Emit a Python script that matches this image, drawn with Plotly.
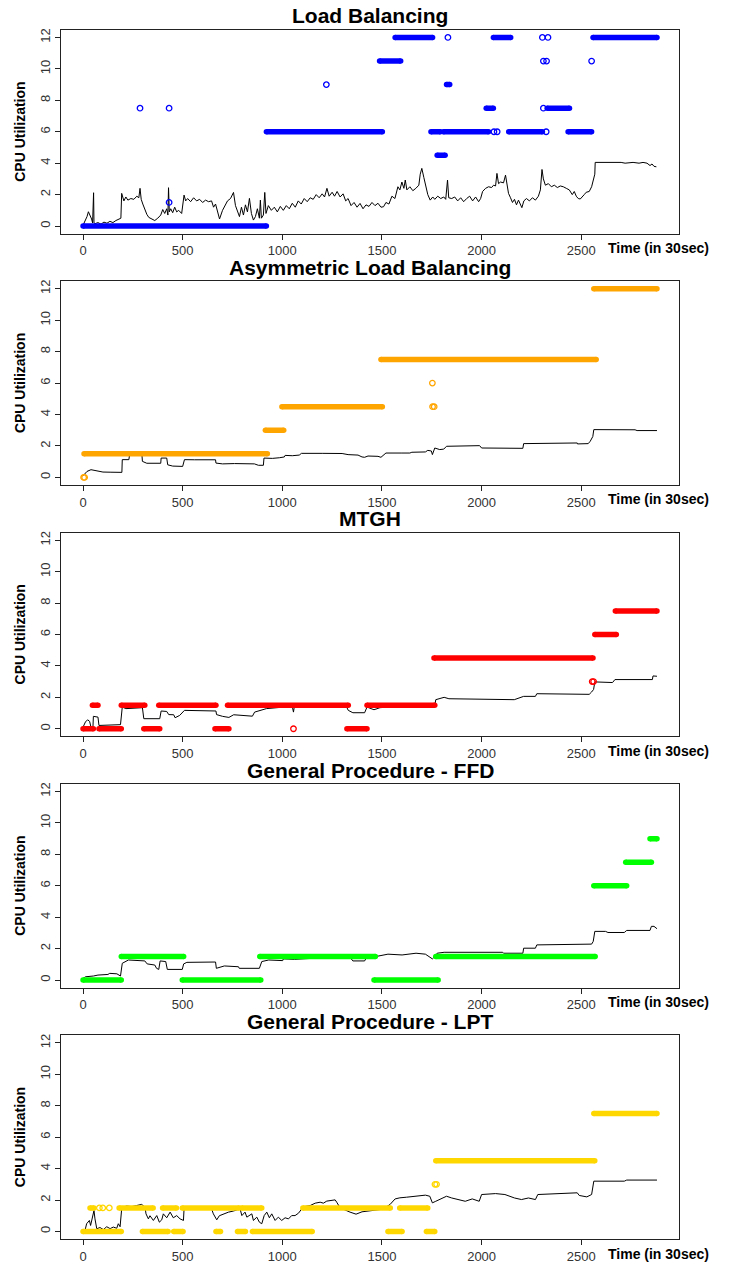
import plotly.graph_objects as go

# ---------------- data ----------------
titles = ["Load Balancing", "Asymmetric Load Balancing", "MTGH",
          "General Procedure - FFD", "General Procedure - LPT"]
colors = ["#0000FF", "#FFA500", "#FF0000", "#00FF00", "#FFD700"]
x_ticks = [0, 500, 1000, 1500, 2000, 2500]
y_ticks = [0, 2, 4, 6, 8, 10, 12]

# Panel 1: Load Balancing - CPU utilization line
lb_x = [0, 10, 20, 27, 35, 43, 48, 50, 53, 55, 60, 75, 90, 105, 120, 135, 150, 165, 180, 190,
        194, 205, 215, 225, 240, 255, 270, 280, 286, 292, 300, 310, 320, 330, 345, 360, 375, 390,
        400, 410, 420, 426, 429, 433, 440, 450, 460, 470, 480, 495, 507, 515, 525, 540, 555, 570,
        585, 600, 615, 630, 645, 655, 665, 675, 685, 700, 712, 725, 740, 755, 765, 775, 785, 795,
        805, 815, 825, 835, 845, 855, 865, 875, 885, 890, 895, 905, 912, 918, 930, 945, 960, 975,
        990, 1005, 1020, 1035, 1050, 1065, 1080, 1095, 1110, 1125, 1140, 1155, 1170, 1185, 1200,
        1212, 1224, 1235, 1250, 1262, 1275, 1290, 1305, 1318, 1330, 1345, 1360, 1375, 1390, 1405,
        1420, 1435, 1450, 1465, 1480, 1495, 1508, 1520, 1535, 1550, 1565, 1580, 1590, 1600, 1610,
        1617, 1625, 1640, 1655, 1670, 1685, 1692, 1700, 1710, 1720, 1730, 1742, 1755, 1765, 1780,
        1795, 1810, 1820, 1829, 1835, 1850, 1865, 1880, 1895, 1910, 1925, 1940, 1955, 1970, 1985,
        1995, 2005, 2020, 2035, 2050, 2060, 2070, 2077, 2085, 2095, 2110, 2120, 2128, 2135, 2145,
        2155, 2165, 2175, 2185, 2195, 2202, 2212, 2225, 2240, 2255, 2270, 2285, 2295, 2303, 2310,
        2320, 2335, 2350, 2365, 2380, 2395, 2410, 2425, 2440, 2455, 2465, 2475, 2485, 2495, 2505,
        2515, 2525, 2540, 2552, 2562, 2568, 2570, 2700, 2720, 2760, 2790, 2810, 2830, 2845, 2855,
        2865, 2877]
lb_y = [0.05, 0.28, 0.6, 0.91, 0.7, 0.45, 0.2, 2.12, 2.12, 0.2, 0.15, 0.22, 0.12, 0.25, 0.18, 0.3,
        0.22, 0.35, 0.45, 0.5, 2.08, 1.6, 1.85, 1.65, 1.75, 1.7, 1.9, 1.8, 2.4, 1.7, 1.4, 1.0, 0.75,
        0.55, 0.45, 0.35, 0.5, 0.7, 1.05, 0.8, 1.1, 0.7, 2.44, 0.9, 1.1, 0.85, 1.2, 0.9, 1.0, 0.8,
        1.97, 1.6, 1.75, 1.55, 1.8, 1.6, 1.7, 1.5, 1.65, 1.55, 1.6, 1.2, 1.4, 0.9, 0.45, 1.0, 1.3,
        1.6, 1.75, 2.14, 1.3, 1.0, 0.6, 1.2, 0.7, 1.35, 0.9, 1.76, 0.8, 0.38, 0.6, 1.1, 0.5, 1.65,
        0.5, 0.7, 2.14, 0.8, 1.3, 1.0, 1.2, 0.9, 1.25, 1.0, 1.3, 1.1, 1.45, 1.2, 1.6, 1.4, 1.75,
        1.55, 1.8, 1.7, 2.0, 1.8, 2.05, 1.85, 2.4, 1.9, 2.15, 1.9, 2.2, 1.85, 2.05, 1.6, 1.75, 1.3,
        1.5, 1.2, 1.44, 1.1, 1.35, 1.25, 1.5, 1.3, 1.45, 1.2, 1.23, 1.5, 1.4, 1.9, 1.75, 2.5, 2.3,
        2.8, 2.4, 2.93, 2.3, 2.5, 2.25, 2.4, 2.6, 3.3, 3.67, 3.1, 2.6, 2.0, 1.65, 1.85, 1.7, 1.9,
        1.75, 1.85, 1.7, 2.93, 1.8, 1.75, 1.85, 1.6, 1.8, 1.55, 1.75, 1.9, 1.6, 1.85, 1.55, 1.75,
        2.2, 2.4, 2.5, 2.45, 2.6, 2.55, 3.35, 2.7, 2.8, 2.75, 3.24, 2.5, 2.08, 1.8, 1.5, 1.7, 1.35,
        1.65, 1.3, 1.17, 1.6, 1.75, 1.6, 1.8, 1.65, 1.9, 2.3, 3.6, 3.0, 2.6, 2.7, 2.5, 2.6, 2.45,
        2.55, 2.5, 2.4, 2.3, 2.0, 2.2, 1.9, 1.75, 1.72, 1.9, 2.0, 2.15, 2.2, 2.5, 2.93, 3.3, 4.05,
        4.05, 4.0, 4.05, 4.0, 4.05, 4.0, 3.85, 3.95, 3.8, 3.77]
lb_seg_start = [0, 920, 1488, 1566, 1746, 1777, 1808, 1824, 2023, 2059, 2136, 2329, 2434, 2559]
lb_seg_end = [920, 1502, 1594, 1754, 1793, 1817, 2035, 1840, 2059, 2146, 2305, 2441, 2552, 2880]
lb_seg_val = [0, 6, 10.5, 12, 6, 4.5, 6, 9, 7.5, 12, 6, 7.5, 6, 12]
lb_pt_x = [286, 432, 432, 1221, 1831, 2062, 2078, 2305, 2333, 2310, 2326, 2310, 2324, 2552]
lb_pt_y = [7.5, 7.5, 1.5, 9, 12, 6, 6, 12, 12, 10.5, 10.5, 7.5, 6, 10.5]

# Panel 2: Asymmetric Load Balancing
alb_x = [0, 10, 20, 40, 60, 80, 100, 140, 180, 195, 197, 230, 235, 260, 295, 298, 320, 360, 390,
         392, 420, 425, 450, 500, 509, 560, 665, 667, 700, 760, 860, 880, 905, 908, 950, 985, 1010,
         1014, 1050, 1085, 1096, 1200, 1300, 1330, 1380, 1400, 1413, 1430, 1480, 1495, 1510, 1520,
         1600, 1640, 1650, 1718, 1730, 1748, 1753, 1760, 1765, 1790, 1810, 1824, 1900, 1990, 2000,
         2100, 2207, 2211, 2350, 2480, 2481, 2535, 2545, 2558, 2563, 2770, 2780, 2880]
alb_y = [0.1, 0.28, 0.38, 0.49, 0.45, 0.4, 0.34, 0.33, 0.32, 0.32, 1.13, 1.13, 1.55, 1.52, 1.55,
         1.02, 0.9, 0.88, 0.9, 1.23, 1.23, 0.8, 0.72, 0.7, 1.13, 1.12, 1.12, 0.91, 0.86, 0.88, 0.86,
         0.77, 0.77, 1.23, 1.21, 1.25, 1.3, 1.4, 1.38, 1.42, 1.53, 1.53, 1.52, 1.45, 1.42, 1.3, 1.28,
         1.36, 1.34, 1.28, 1.45, 1.55, 1.55, 1.55, 1.6, 1.62, 1.72, 1.68, 1.45, 1.65, 1.87, 1.77,
         1.8, 1.98, 2.0, 2.02, 1.87, 1.85, 1.85, 2.15, 2.18, 2.19, 2.13, 2.15, 2.3, 2.6, 3.04, 3.03,
         2.98, 2.98]
alb_seg_start = [5, 915, 998, 1495, 2563]
alb_seg_end = [925, 1007, 1502, 2575, 2880]
alb_seg_val = [1.5, 3, 4.5, 7.5, 12]
alb_pt_x = [3, 8, 1753, 1754, 1762]
alb_pt_y = [0, 0, 6, 4.5, 4.5]

# Panel 3: MTGH
mt_x = [0, 12, 23, 33, 40, 50, 52, 75, 80, 188, 197, 215, 298, 305, 385, 392, 420, 430, 455, 462,
        485, 509, 667, 670, 700, 732, 756, 850, 861, 920, 991, 1037, 1052, 1056, 1060, 1200, 1320,
        1331, 1354, 1413, 1425, 1460, 1490, 1600, 1765, 1770, 1812, 1836, 2100, 2164, 2211, 2270,
        2277, 2540, 2552, 2562, 2568, 2657, 2669, 2857, 2860, 2880]
mt_y = [0.1, 0.43, 0.57, 0.47, 0.1, 0.15, 0.79, 0.74, 0.21, 0.26, 1.38, 1.28, 1.34, 0.64, 0.64,
        1.13, 1.1, 0.9, 0.89, 0.7, 0.85, 1.17, 1.13, 0.9, 0.79, 0.72, 0.89, 0.8, 1.06, 1.28, 1.36,
        1.43, 1.3, 1.06, 1.4, 1.45, 1.45, 1.17, 1.02, 1.02, 1.38, 1.21, 1.34, 1.45, 1.48, 1.85, 2.0,
        1.91, 1.9, 1.85, 2.06, 2.06, 2.23, 2.19, 2.34, 2.5, 2.98, 2.94, 3.13, 3.13, 3.36, 3.34]
mt_seg_start = [0, 47, 80, 192, 305, 380, 662, 725, 1324, 1425, 1761, 2568, 2671]
mt_seg_end = [52, 75, 192, 310, 385, 667, 732, 1331, 1425, 1765, 2559, 2676, 2880]
mt_seg_val = [0, 1.5, 0, 1.5, 0, 1.5, 0, 1.5, 0, 1.5, 4.5, 6, 7.5]
mt_pt_x = [1056, 2555, 2562]
mt_pt_y = [0, 3, 3]

# Panel 4: General Procedure - FFD
ffd_x = [0, 12, 52, 75, 125, 134, 170, 181, 188, 197, 215, 228, 310, 322, 360, 369, 380, 387, 415,
         423, 498, 505, 521, 665, 669, 709, 780, 784, 885, 897, 932, 1002, 1005, 1061, 1200, 1340,
         1354, 1413, 1425, 1460, 1470, 1530, 1601, 1671, 1718, 1753, 1765, 1777, 1812, 2106, 2110,
         2207, 2211, 2270, 2277, 2552, 2560, 2568, 2622, 2634, 2716, 2728, 2845, 2852, 2865, 2880]
ffd_y = [0.1, 0.21, 0.26, 0.32, 0.36, 0.43, 0.4, 0.32, 0.26, 1.07, 1.18, 1.28, 1.22, 1.03, 0.96,
         0.75, 0.68, 1.22, 1.18, 0.68, 0.68, 1.03, 1.13, 1.15, 0.75, 0.9, 0.85, 0.75, 0.75, 1.18,
         1.28, 1.24, 1.35, 1.32, 1.42, 1.45, 1.22, 1.22, 1.5, 1.39, 1.5, 1.65, 1.6, 1.71, 1.65, 1.35,
         1.5, 1.71, 1.77, 1.77, 1.71, 1.71, 2.03, 2.03, 2.24, 2.29, 2.46, 3.1, 3.1, 3.03, 3.03, 3.16,
         3.16, 3.42, 3.42, 3.27]
ffd_seg_start = [0, 192, 498, 887, 1460, 1770, 2563, 2723, 2845]
ffd_seg_end = [192, 505, 892, 1467, 1782, 2570, 2728, 2852, 2880]
ffd_seg_val = [0, 1.5, 0, 1.5, 0, 1.5, 6, 7.5, 9]
ffd_pt_x = []
ffd_pt_y = []

# Panel 5: General Procedure - LPT
lpt_x = [0, 10, 18, 32, 38, 48, 55, 60, 69, 85, 102, 119, 136, 152, 169, 177, 186, 194, 202, 219,
         244, 269, 294, 311, 316, 328, 336, 353, 370, 383, 395, 403, 420, 437, 453, 470, 487, 504,
         507, 560, 620, 646, 654, 671, 684, 704, 730, 755, 788, 797, 813, 822, 847, 855, 872, 885,
         897, 909, 922, 935, 947, 964, 980, 997, 1014, 1031, 1047, 1064, 1081, 1098, 1114, 1140,
         1165, 1190, 1206, 1223, 1248, 1265, 1273, 1290, 1340, 1370, 1400, 1430, 1475, 1520, 1526,
         1540, 1566, 1590, 1624, 1671, 1718, 1740, 1753, 1770, 1790, 1824, 1850, 1883, 1918, 1953,
         1988, 2000, 2070, 2117, 2141, 2165, 2200, 2235, 2270, 2282, 2480, 2490, 2528, 2552, 2563,
         2716, 2728, 2880]
lpt_y = [0.0, 0.06, 0.49, 0.7, 0.38, 0.91, 1.33, 0.8, 0.17, 0.25, 0.12, 0.3, 0.18, 0.28, 0.2,
         0.49, 0.3, 1.44, 1.55, 1.62, 1.58, 1.65, 1.72, 1.55, 1.12, 0.8, 1.0, 0.7, 1.01, 0.59, 0.74,
         1.12, 0.87, 1.23, 0.87, 1.01, 0.8, 0.7, 1.44, 1.5, 1.45, 1.4, 1.12, 0.74, 1.0, 1.12, 1.23,
         1.3, 1.44, 1.01, 1.23, 0.91, 1.12, 0.7, 0.91, 0.59, 0.49, 1.01, 1.23, 0.87, 1.12, 0.7, 0.91,
         0.7, 0.87, 0.8, 1.01, 1.01, 1.16, 1.44, 1.59, 1.65, 1.8, 1.86, 1.8, 1.93, 1.97, 2.01, 1.86,
         1.5, 1.23, 1.1, 1.25, 1.3, 1.35, 1.44, 1.6, 1.71, 2.07, 2.14, 2.18, 2.24, 2.31, 2.24, 1.82,
         1.92, 2.03, 2.24, 2.13, 2.03, 1.92, 2.07, 1.92, 2.35, 2.41, 2.35, 2.24, 2.13, 2.03, 2.13,
         2.03, 2.35, 2.46, 2.29, 2.2, 2.35, 3.2, 3.2, 3.27, 3.27]
lpt_seg_start = [35, 181, 399, 498, 796, 1103, 1589, 0, 298, 455, 667, 775, 850, 1530, 1723,
                 1770, 2563]
lpt_seg_end = [55, 352, 469, 784, 897, 1542, 1730, 192, 427, 502, 690, 815, 1150, 1601, 1765,
               2568, 2880]
lpt_seg_val = [1.5, 1.5, 1.5, 1.5, 1.5, 1.5, 1.5, 0, 0, 0, 0, 0, 0, 0, 0, 4.5, 7.5]
lpt_pt_x = [82, 99, 132, 1766, 1774]
lpt_pt_y = [1.5, 1.5, 1.5, 3, 3]

panels = [
    (lb_x, lb_y, lb_seg_start, lb_seg_end, lb_seg_val, lb_pt_x, lb_pt_y),
    (alb_x, alb_y, alb_seg_start, alb_seg_end, alb_seg_val, alb_pt_x, alb_pt_y),
    (mt_x, mt_y, mt_seg_start, mt_seg_end, mt_seg_val, mt_pt_x, mt_pt_y),
    (ffd_x, ffd_y, ffd_seg_start, ffd_seg_end, ffd_seg_val, ffd_pt_x, ffd_pt_y),
    (lpt_x, lpt_y, lpt_seg_start, lpt_seg_end, lpt_seg_val, lpt_pt_x, lpt_pt_y),
]

# ---------------- layout geometry ----------------
W, H = 732, 1265
PANEL_STEP = 251.75
ZERO0 = 224.4
PX_PER_UNIT = 15.74
BOX_L, BOX_R = 60.7, 679.3
FONT = "Liberation Sans, Arial, sans-serif"
BAND = 5.5

fig = go.Figure()
layout = dict(width=W, height=H, margin=dict(l=0, r=0, t=0, b=0),
              paper_bgcolor="white", plot_bgcolor="white", showlegend=False,
              annotations=[])

for k, (lx, ly, ss, se, sv, px, py) in enumerate(panels):
    xa = "x" if k == 0 else f"x{k+1}"
    ya = "y" if k == 0 else f"y{k+1}"
    col = colors[k]
    zero = ZERO0 + PANEL_STEP * k
    top = zero - 12.48 * PX_PER_UNIT
    bot = zero + 0.48 * PX_PER_UNIT

    fig.add_trace(go.Scatter(x=lx, y=ly, mode="lines", xaxis=xa, yaxis=ya,
                             line=dict(color="black", width=1), hoverinfo="skip"))
    sx, sy, ex, ey = [], [], [], []
    for a, b, v in zip(ss, se, sv):
        sx += [a, b, None]
        sy += [v, v, None]
        ex += [a, b]
        ey += [v, v]
    fig.add_trace(go.Scatter(x=sx, y=sy, mode="lines", xaxis=xa, yaxis=ya,
                             line=dict(color=col, width=BAND), hoverinfo="skip"))
    fig.add_trace(go.Scatter(x=ex, y=ey, mode="markers", xaxis=xa, yaxis=ya,
                             marker=dict(color=col, size=BAND, line=dict(width=0)),
                             hoverinfo="skip"))
    if px:
        fig.add_trace(go.Scatter(x=px, y=py, mode="markers", xaxis=xa, yaxis=ya,
                                 marker=dict(symbol="circle-open", color=col, size=5.5,
                                             line=dict(width=1.3, color=col)),
                                 hoverinfo="skip"))

    axis_common = dict(showline=True, mirror=True, linecolor="#222", linewidth=1,
                       ticks="outside", ticklen=5, tickcolor="#222", showgrid=False,
                       zeroline=False, tickfont=dict(family=FONT, size=13, color="#333"))
    layout["xaxis" if k == 0 else f"xaxis{k+1}"] = dict(
        axis_common, domain=[BOX_L / W, BOX_R / W], range=[-112, 2992],
        tickvals=x_ticks, ticktext=[str(t) for t in x_ticks], anchor=ya)
    layout["yaxis" if k == 0 else f"yaxis{k+1}"] = dict(
        axis_common, domain=[1 - bot / H, 1 - top / H], range=[-0.48, 12.48],
        tickvals=y_ticks, ticktext=[str(t) for t in y_ticks], tickangle=-90, anchor=xa)

    layout["annotations"].append(dict(
        text=titles[k], xref="paper", yref="paper", x=(BOX_L + BOX_R) / 2 / W,
        y=1 - (14 + PANEL_STEP * k) / H, xanchor="center", yanchor="middle", showarrow=False,
        font=dict(family=FONT, size=21, color="black", weight="bold")))
    layout["annotations"].append(dict(
        text="CPU Utilization", xref="paper", yref="paper", x=20 / W,
        y=1 - (zero - 6 * PX_PER_UNIT) / H, xanchor="center", yanchor="middle",
        textangle=-90, showarrow=False,
        font=dict(family=FONT, size=14, color="black", weight="bold")))
    layout["annotations"].append(dict(
        text="Time (in 30sec)", xref="paper", yref="paper", x=711 / W,
        y=1 - (246.5 + PANEL_STEP * k) / H, xanchor="right", yanchor="middle",
        showarrow=False, font=dict(family=FONT, size=14, color="black", weight="bold")))

fig.update_layout(**layout)
fig.write_html("out.html",
               config={"displayModeBar": False, "staticPlot": True},
               post_script="document.body.style.margin='0px';"
                           "document.body.style.overflow='hidden';")
